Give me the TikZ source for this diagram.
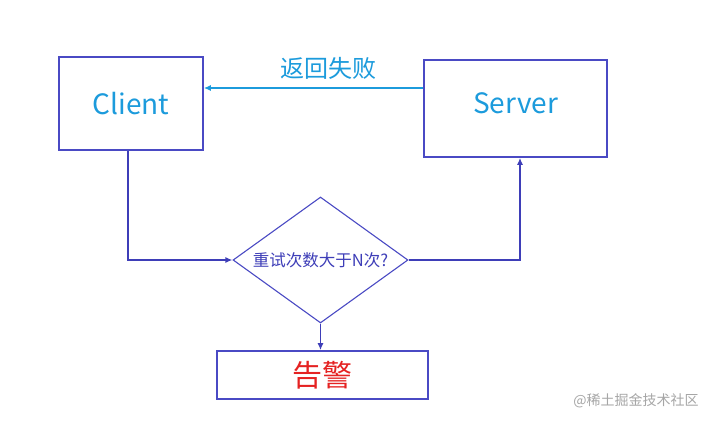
\documentclass[tikz,border=0pt]{standalone}
\usepackage{fontspec}
\setmainfont{Noto Sans CJK SC}
\usetikzlibrary{shapes.geometric,arrows.meta}
\definecolor{boxblue}{HTML}{4A4AC4}
\definecolor{lineblue}{HTML}{3E3EB8}
\definecolor{failblue}{HTML}{1C9BDC}
\definecolor{alarmred}{HTML}{E52222}

\begin{document}
\begin{tikzpicture}[x=1pt,y=-1pt,>={Latex[length=7pt,width=6pt]}]
  \tikzset{
    box/.style={draw=boxblue,line width=1.6pt,inner sep=0pt},
    link/.style={lineblue,line width=1.6pt,->},
  }
  \useasboundingbox[fill=white] (0,0) rectangle (707,426);
  \node[box,minimum width=144pt,minimum height=93pt] (client) at (131,103.5)
    {\fontsize{28}{30}\selectfont\color{failblue}Client};
  \node[box,minimum width=183pt,minimum height=97pt,text depth=10pt] (server) at (515.5,108.5)
    {\fontsize{28}{30}\selectfont\color{failblue}Server};
  \node[box,shape=diamond,aspect=1.4,line width=1.1pt,minimum width=175pt,minimum height=126pt]
    (check) at (320.5,260) {\fontsize{16.5}{18}\selectfont\color{lineblue}重试次数大于N次?};
  \node[box,minimum width=211pt,minimum height=48pt] (alarm) at (322.5,375)
    {\fontsize{30}{32}\selectfont\color{alarmred}告警};
  \coordinate (turnA) at (128,260);
  \coordinate (turnB) at (520,260);
  % failure reply
  \draw[failblue,line width=1.6pt,->] (server.west|-0,88) -- (client.east|-0,88)
    node[midway,above=4pt,xshift=15pt] {\fontsize{24}{26}\selectfont 返回失败};
  % retry loop
  \draw[link] (client.south-|turnA) -- (turnA) -- (check.west);
  \draw[link] (check.east) -- (turnB) -- (server.south-|turnB);
  \draw[link] (check.south) -- (check.south|-alarm.north);
  \node[gray!70,font=\fontsize{14}{16}\selectfont] (mark) at (636,401) {@稀土掘金技术社区};
\end{tikzpicture}
\end{document}
